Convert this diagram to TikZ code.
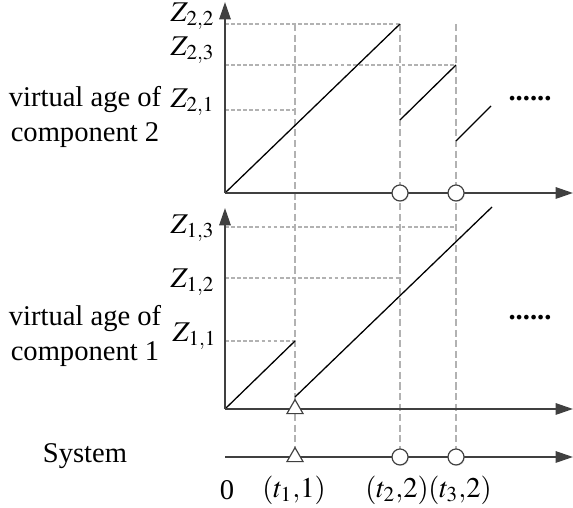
\documentclass[tikz,border=0pt]{standalone}
\usepackage{mathptmx}
\usepackage{fontspec}
\setmainfont{Liberation Serif}
\usetikzlibrary{shapes.geometric, arrows.meta, shadows}
\definecolor{axisgray}{RGB}{64,64,64}
\definecolor{guidegray}{RGB}{178,178,178}
\tikzset{
  axisline/.style={-{Triangle[length=2.6mm, width=1.7mm]}, line width=0.85pt, color=axisgray},
  guideh/.style={color=guidegray, line width=0.45pt, dash pattern=on 1.6pt off 1pt},
  guidev/.style={color=guidegray, line width=0.45pt, dash pattern=on 3pt off 1.5pt},
  agesegment/.style={line width=0.55pt, color=black},
  pmmark/.style={circle, draw=axisgray, fill=white, minimum size=0.24cm,
    inner sep=0pt, line width=0.5pt,
    drop shadow={shadow xshift=0.4pt, shadow yshift=-0.4pt, opacity=0.2}},
  cmmark/.style={regular polygon, regular polygon sides=3, draw=axisgray, fill=white,
    minimum size=0.28cm, inner sep=0pt, line width=0.5pt}
}

\begin{document}
\begin{tikzpicture}[x=0.3cm, y=0.3cm, every node/.style={font=\fontsize{12.2}{15}\selectfont}]
  \useasboundingbox (0,0) rectangle (28.65,25.4);

  % Origins and axis ends
  \coordinate (o2) at (11.25,15.75);
  \coordinate (o1) at (11.25,4.95);
  \coordinate (os) at (11.25,2.55);
  \coordinate (y2end) at (11.25,25.3);
  \coordinate (y1end) at (11.25,15.0);
  \coordinate (x2end) at (28.65,15.75);
  \coordinate (x1end) at (28.65,4.95);
  \coordinate (xsend) at (28.65,2.55);

  % Event times on the system axis
  \coordinate (s1) at (14.75,2.55);
  \coordinate (s2) at (20,2.55);
  \coordinate (s3) at (22.8,2.55);

  % Vertical guides (t1, t2, t3)
  \draw[guidev] (14.75,24.2) -- (s1);
  \draw[guidev] (20,24.2) -- (s2);
  \draw[guidev] (22.8,24.2) -- (s3);

  % Levels of component 2
  \coordinate (z22) at (20,24.2);
  \coordinate (z23) at (22.8,22.15);
  \coordinate (z21) at (14.75,19.9);
  \draw[guideh] (11.25,24.2) -- (z22);
  \draw[guideh] (11.25,22.15) -- (z23);
  \draw[guideh] (11.25,19.9) -- (z21);

  % Levels of component 1
  \coordinate (z13) at (22.8,14.05);
  \coordinate (z12) at (20,11.5);
  \coordinate (z11) at (14.75,8.35);
  \draw[guideh] (11.25,14.05) -- (z13);
  \draw[guideh] (11.25,11.5) -- (z12);
  \draw[guideh] (11.25,8.35) -- (z11);

  % Virtual age of component 2
  \draw[agesegment] (o2) -- (z22);
  \draw[agesegment] (20,19.4) -- (z23);
  \draw[agesegment] (22.8,18.35) -- (24.55,20.1);

  % Virtual age of component 1
  \draw[agesegment] (o1) -- (z11);
  \draw[agesegment] (14.75,5.55) -- (24.6,15.05);

  % Axes
  \draw[axisline] (o2) -- (y2end);
  \draw[axisline] (o2) -- (x2end);
  \draw[axisline] (o1) -- (y1end);
  \draw[axisline] (o1) -- (x1end);
  \draw[axisline] (os) -- (xsend);

  % Maintenance marks
  \node[pmmark] (p2) at (20,15.75) {};
  \node[pmmark] (p3) at (22.8,15.75) {};
  \node[cmmark] (f1) at (14.75,4.95) {};
  \node[cmmark] (fs1) at (s1) {};
  \node[pmmark] (ps2) at (s2) {};
  \node[pmmark] (ps3) at (s3) {};

  % Level labels
  \node[anchor=east] (lz22) at (11.15,24.6) {$Z_{2{,}2}$};
  \node[anchor=east] (lz23) at (11.15,22.9) {$Z_{2{,}3}$};
  \node[anchor=east] (lz21) at (11.15,20.3) {$Z_{2{,}1}$};
  \node[anchor=east] (lz13) at (11.15,14.0) {$Z_{1{,}3}$};
  \node[anchor=east] (lz12) at (11.15,11.3) {$Z_{1{,}2}$};
  \node[anchor=east] (lz11) at (11.25,8.6) {$Z_{1{,}1}$};

  % Row titles
  \node[align=center] (comp2) at (4.25,19.55) {virtual age of\\component 2};
  \node[align=center] (comp1) at (4.25,8.6) {virtual age of\\component 1};
  \node (sys) at (4.25,2.6) {System};

  % Continuation dots
  \node (more2) at (26.5,20.45) {\textbf{......}};
  \node (more1) at (26.5,9.5) {\textbf{......}};

  % Event labels
  \node (lt0) at (11.35,0.9) {0};
  \node (lt1) at (14.7,0.9) {$(t_1{,}1)$};
  \node (lt2) at (19.85,0.9) {$(t_2{,}2)$};
  \node (lt3) at (23.0,0.9) {$(t_3{,}2)$};
\end{tikzpicture}
\end{document}
